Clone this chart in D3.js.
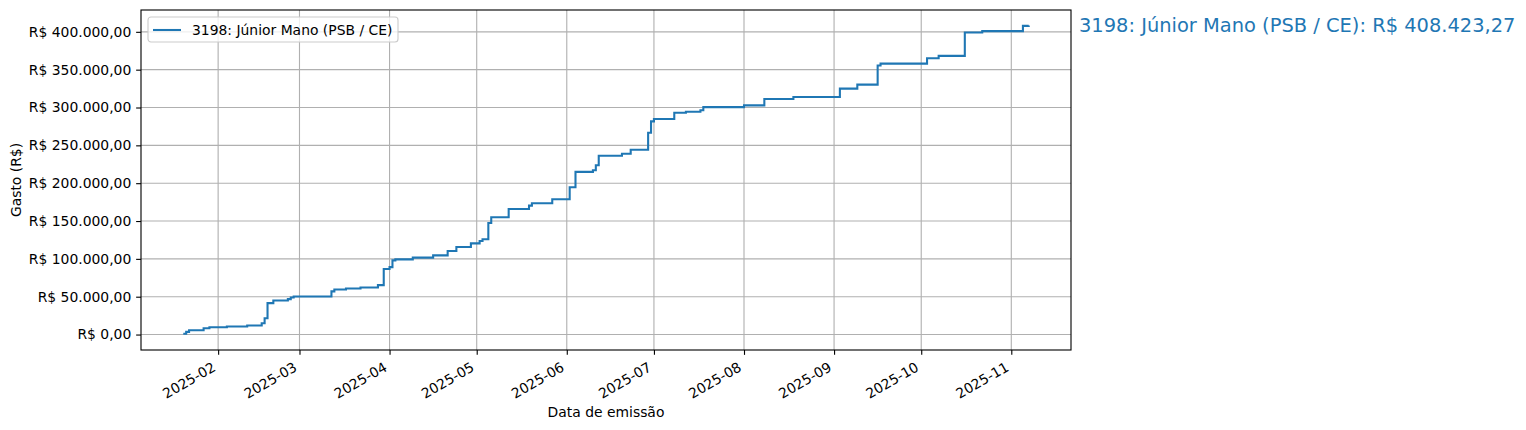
<!DOCTYPE html>
<html>
<head>
<meta charset="utf-8">
<script src="https://cdn.jsdelivr.net/npm/d3@7"></script>
<style>
  body { margin: 0; background: #fff; }
  svg { font-family: "DejaVu Sans", sans-serif; }
</style>
</head>
<body>
<div id="chart"></div>
<script>
// cumulative spending
const dates = [
  "2025-01-20", "2025-01-21", "2025-01-22", "2025-01-27", "2025-01-29",
  "2025-02-04", "2025-02-11", "2025-02-16", "2025-02-17", "2025-02-18",
  "2025-02-20", "2025-02-25", "2025-02-26", "2025-02-27", "2025-03-12",
  "2025-03-13", "2025-03-17", "2025-03-22", "2025-03-28", "2025-03-30",
  "2025-04-01", "2025-04-02", "2025-04-03", "2025-04-09", "2025-04-16",
  "2025-04-21", "2025-04-24", "2025-04-29", "2025-05-02", "2025-05-03",
  "2025-05-05", "2025-05-06", "2025-05-12", "2025-05-19", "2025-05-20",
  "2025-05-27", "2025-06-02", "2025-06-04", "2025-06-10", "2025-06-11",
  "2025-06-12", "2025-06-20", "2025-06-23", "2025-06-29", "2025-06-30",
  "2025-07-01", "2025-07-08", "2025-07-12", "2025-07-17", "2025-07-18",
  "2025-08-01", "2025-08-08", "2025-08-18", "2025-09-03", "2025-09-09",
  "2025-09-16", "2025-09-17", "2025-10-03", "2025-10-07", "2025-10-16",
  "2025-10-22", "2025-11-05", "2025-11-07"
];
const gasto = [
  1000, 3500, 5700, 8400, 9700,
  10600, 11900, 15000, 21600, 41500,
  45000, 46800, 49000, 50300, 57000,
  59600, 60900, 62250, 65300, 86500,
  89100, 98000, 99300, 101600, 104600,
  110300, 115600, 120500, 123600, 126000,
  147400, 155000, 166000, 170400, 173500,
  178800, 194700, 215000, 217200, 223800,
  236200, 238800, 244100, 266600, 281700,
  284800, 293100, 294400, 296300, 300500,
  302800, 311300, 313900, 324900, 330200,
  355400, 358000, 365100, 368200, 399100,
  400900, 407900, 408423.27
];
const seriesName = "3198: Júnior Mano (PSB / CE)";
const yTicks = [0, 50000, 100000, 150000, 200000, 250000, 300000, 350000, 400000];
const xTicks = ["2025-02", "2025-03", "2025-04", "2025-05", "2025-06",
                "2025-07", "2025-08", "2025-09", "2025-10", "2025-11"];

const W = 1526, H = 430;
const margin = {top: 10, right: 455, bottom: 80, left: 141};
const width = W - margin.left - margin.right;
const height = H - margin.top - margin.bottom;
const color = "#1f77b4";
const pt = 100 / 72; // points to pixels at 100 dpi

const parse = d3.timeParse("%Y-%m-%d");
const parseMonth = d3.timeParse("%Y-%m");
const data = dates.map((d, i) => ({date: parse(d), value: gasto[i]}));

// brl formatting like "R$ 400.000,00"
const brl = d3.formatLocale({decimal: ",", thousands: ".", grouping: [3], currency: ["R$ ", ""]});
const fmtMoney = brl.format("$,.2f");

const svg = d3.select("#chart").append("svg")
  .attr("width", W).attr("height", H);
const g = svg.append("g")
  .attr("transform", `translate(${margin.left},${margin.top})`);

// 5% margins like matplotlib
const xExt = d3.extent(data, d => d.date);
const xPad = (xExt[1] - xExt[0]) * 0.05;
const x = d3.scaleTime()
  .domain([new Date(+xExt[0] - xPad), new Date(+xExt[1] + xPad)])
  .range([0, width]);
const yMax = d3.max(data, d => d.value);
const y = d3.scaleLinear()
  .domain([-yMax * 0.05, yMax * 1.05])
  .range([height, 0]);

const xTickDates = xTicks.map(parseMonth);

// grid
g.append("g").selectAll("line").data(xTickDates).join("line")
  .attr("x1", d => x(d)).attr("x2", d => x(d))
  .attr("y1", 0).attr("y2", height)
  .attr("stroke", "#b0b0b0").attr("stroke-width", 0.8 * pt);
g.append("g").selectAll("line").data(yTicks).join("line")
  .attr("x1", 0).attr("x2", width)
  .attr("y1", d => y(d)).attr("y2", d => y(d))
  .attr("stroke", "#b0b0b0").attr("stroke-width", 0.8 * pt);

// axes
const xAxis = g.append("g")
  .attr("transform", `translate(0,${height})`)
  .call(d3.axisBottom(x).tickValues(xTickDates).tickSize(3.5 * pt).tickFormat(""));
const yAxis = g.append("g")
  .call(d3.axisLeft(y).tickValues(yTicks).tickSize(3.5 * pt).tickPadding(3.5 * pt).tickFormat(fmtMoney));
[xAxis, yAxis].forEach(a => {
  a.select(".domain").remove();
  a.selectAll(".tick line").attr("stroke", "#000").attr("stroke-width", 0.8 * pt);
  a.selectAll("text").attr("font-size", 13.9).attr("fill", "#000")
    .attr("font-family", "DejaVu Sans");
});

// rotated date labels
const fmtMonth = d3.timeFormat("%Y-%m");
g.append("g").selectAll("text").data(xTickDates).join("text")
  .attr("transform", d => `translate(${x(d) - 1.5},${height + 20}) rotate(-30)`)
  .attr("text-anchor", "end")
  .attr("font-size", 13.9)
  .text(d => fmtMonth(d));

// line
g.append("path")
  .datum(data)
  .attr("fill", "none")
  .attr("stroke", color)
  .attr("stroke-width", 1.5 * pt)
  .attr("d", d3.line().curve(d3.curveStepAfter)
    .x(d => x(d.date))
    .y(d => y(d.value)));

// frame
g.append("rect")
  .attr("width", width).attr("height", height)
  .attr("fill", "none").attr("stroke", "#000").attr("stroke-width", 0.8 * pt);

// legend
const leg = g.append("g").attr("transform", "translate(7,7)");
leg.append("rect")
  .attr("width", 250).attr("height", 25).attr("rx", 3)
  .attr("fill", "#fff").attr("fill-opacity", 0.8)
  .attr("stroke", "#cccccc").attr("stroke-width", 0.8 * pt);
leg.append("line")
  .attr("x1", 5).attr("x2", 33).attr("y1", 13).attr("y2", 13)
  .attr("stroke", color).attr("stroke-width", 1.5 * pt);
leg.append("text")
  .attr("x", 44).attr("y", 18)
  .attr("font-size", 13.9)
  .text(seriesName);

// end annotation
const last = data[data.length - 1];
g.append("text")
  .attr("x", width + 8)
  .attr("y", y(last.value))
  .attr("dy", "0.36em")
  .attr("font-size", 19.44)
  .attr("fill", color)
  .text(`${seriesName}: ${fmtMoney(last.value)}`);

// axis titles
g.append("text")
  .attr("x", width / 2).attr("y", height + 67)
  .attr("text-anchor", "middle")
  .attr("font-size", 13.9)
  .text("Data de emissão");
g.append("text")
  .attr("transform", `translate(${-120},${height / 2}) rotate(-90)`)
  .attr("text-anchor", "middle")
  .attr("font-size", 13.9)
  .text("Gasto (R$)");
</script>
</body>
</html>
